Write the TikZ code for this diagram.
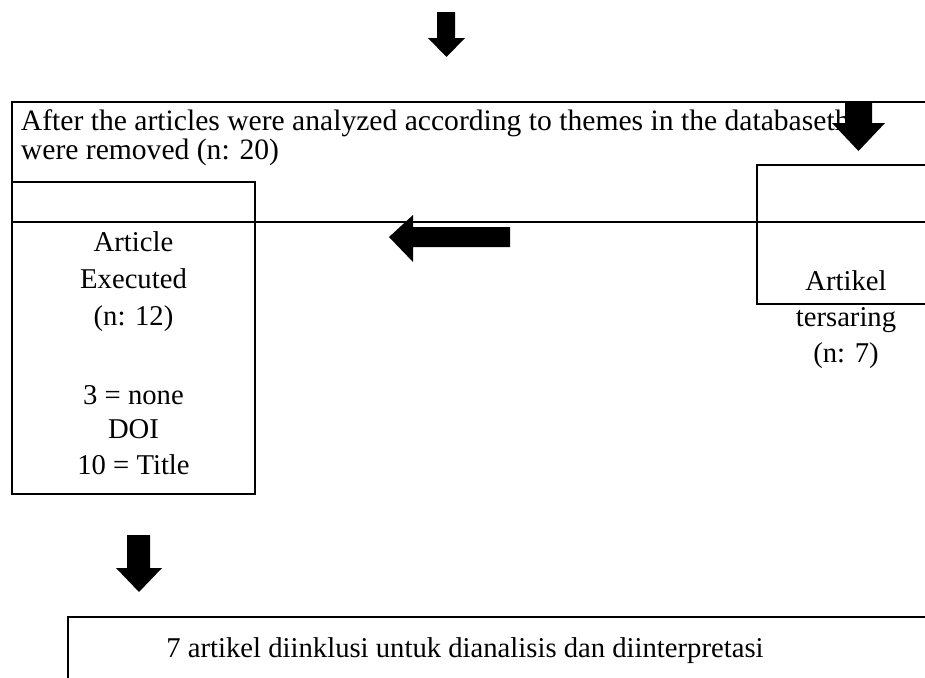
\documentclass[tikz,border=0pt]{standalone}
\usepackage{fontspec}
\setmainfont{Liberation Serif}
\begin{document}
\begin{tikzpicture}[x=0.75pt,y=-0.75pt,line width=1.5pt,
  txt/.style={inner sep=0pt,anchor=base,font=\fontsize{21.5}{26}\selectfont},
  toptxt/.style={inner sep=0pt,anchor=base west,font=\fontsize{22.2}{26}\selectfont},
  blk/.style={fill=black,draw=none}]
\useasboundingbox (0,0) rectangle (925,678);
\clip (0,0) rectangle (925,678);
% top wide box
\draw (12,222) -- (12,102) -- (935,102);
\draw (12,222) -- (935,222);
\node[toptxt] (t1) at (20,130) {After the articles were analyzed according to themes in the databaseth};
\node[toptxt] (t2) at (20,159) {were removed (n: 20)};
% left box
\draw (12,182) rectangle (255,494);
\node[txt] (a1) at (133.5,251) {Article};
\node[txt] (a2) at (133.5,288) {Executed};
\node[txt] (a3) at (133.5,325) {(n: 12)};
\node[txt] (a4) at (133.5,404) {3 = none};
\node[txt] (a5) at (133.5,438) {DOI};
\node[txt] (a6) at (133.5,474) {10 = Title};
% right box
\draw (757,165) rectangle (940,304);
\node[txt] (r1) at (846,290) {Artikel};
\node[txt] (r2) at (846,326) {tersaring};
\node[txt] (r3) at (846,362) {(n: 7)};
% bottom box
\draw (68,700) -- (68,617) -- (935,617);
\node[txt] (b1) at (465,657) {7 artikel diinklusi untuk dianalisis dan diinterpretasi};
% block arrows
\fill[blk] (437,12) -- (455,12) -- (455,38) -- (465,38) -- (446.5,57) -- (428,38) -- (437,38) -- cycle;
\fill[blk] (845,103) -- (872,103) -- (872,123) -- (885,123) -- (858.5,151) -- (832,123) -- (845,123) -- cycle;
\fill[blk] (510,227) -- (510,247) -- (413,247) -- (413,262) -- (389,237) -- (413,215) -- (413,227) -- cycle;
\fill[blk] (127,535) -- (150,535) -- (150,568) -- (162,568) -- (139,592) -- (116,568) -- (127,568) -- cycle;
\end{tikzpicture}
\end{document}
